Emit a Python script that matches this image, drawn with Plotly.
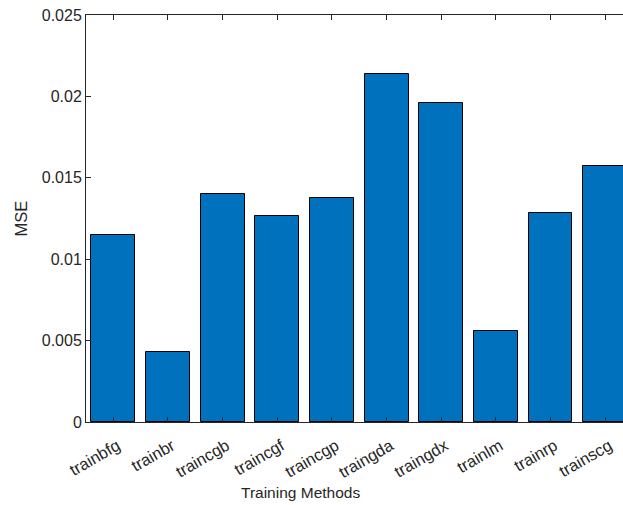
import plotly.graph_objects as go

# Training functions compared and their mean squared error
methods = ["trainbfg", "trainbr", "traincgb", "traincgf", "traincgp",
           "traingda", "traingdx", "trainlm", "trainrp", "trainscg"]
mse = [0.01147, 0.00432, 0.01402, 0.01263, 0.01376,
       0.02136, 0.01960, 0.00557, 0.01284, 0.01571]

y_ticks = [0, 0.005, 0.01, 0.015, 0.02, 0.025]
y_tick_text = ["0", "0.005", "0.01", "0.015", "0.02", "0.025"]

positions = list(range(1, len(methods) + 1))

ink = "#262626"
font_family = "Liberation Sans, Arial, sans-serif"

fig = go.Figure(
    go.Bar(
        x=positions,
        y=mse,
        width=0.8,
        marker=dict(color="#0072BD", line=dict(color="#000000", width=1)),
        hoverinfo="skip",
    )
)

fig.update_layout(
    width=623,
    height=505,
    margin=dict(l=86, r=0, t=15, b=83),
    paper_bgcolor="white",
    plot_bgcolor="white",
    showlegend=False,
    font=dict(family=font_family, size=15, color=ink),
    bargap=0,
)

fig.update_xaxes(
    range=[0.5, 10.324],
    tickvals=positions,
    ticktext=methods,
    tickangle=-30,
    ticks="inside",
    ticklen=5,
    tickcolor=ink,
    tickwidth=1,
    showline=True,
    linecolor=ink,
    linewidth=1,
    mirror="ticks",
    showgrid=False,
    zeroline=False,
    ticklabelstandoff=7,
    ticklabelshift=4,
    tickfont=dict(size=16.5, color=ink),
)

fig.update_yaxes(
    range=[0, 0.025],
    tickvals=y_ticks,
    ticktext=y_tick_text,
    ticks="inside",
    ticklen=5,
    tickcolor=ink,
    tickwidth=1,
    showline=True,
    linecolor=ink,
    linewidth=1,
    showgrid=False,
    zeroline=False,
    tickfont=dict(size=16, color=ink),
)

fig.add_annotation(
    text="Training Methods", xref="paper", yref="paper",
    x=(300 - 86) / 537, y=-(492 - 422) / 407,
    xanchor="center", yanchor="middle", showarrow=False,
    font=dict(size=15.5, color=ink),
)
fig.add_annotation(
    text="MSE", xref="paper", yref="paper",
    x=-(86 - 20) / 537, y=0.5, textangle=-90,
    xanchor="center", yanchor="middle", showarrow=False,
    font=dict(size=16.5, color=ink),
)

fig.write_html("out.html")
